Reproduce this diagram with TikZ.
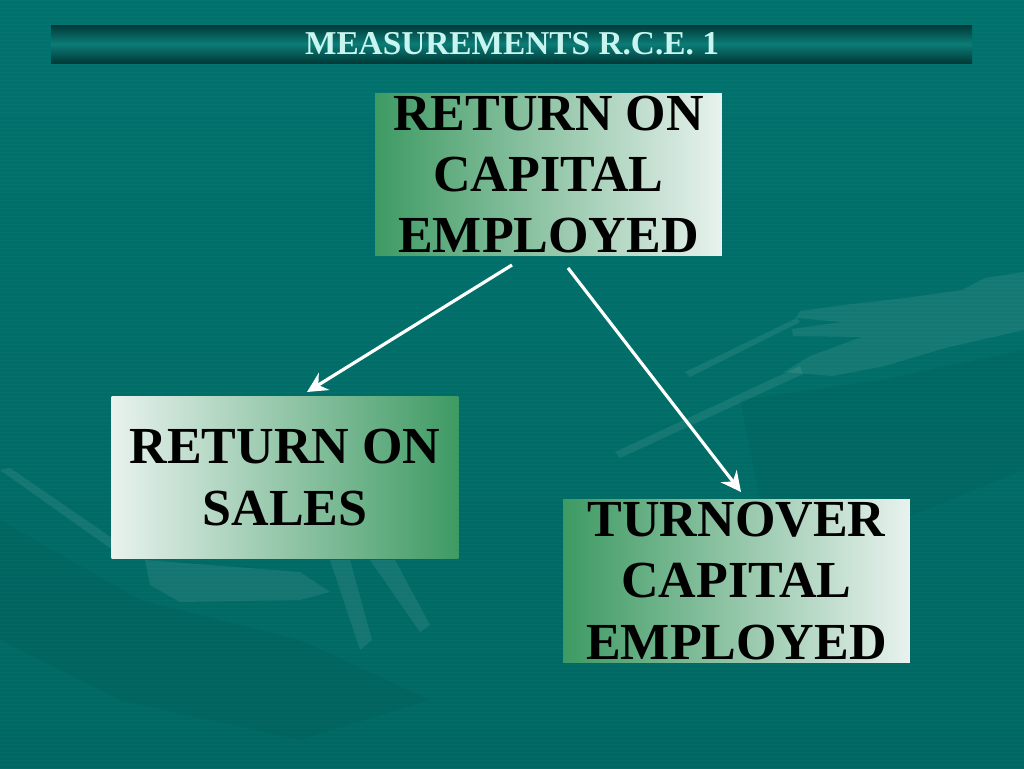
\documentclass[tikz,border=0pt]{standalone}
\usepackage{fontspec}
\setmainfont{Liberation Serif}
\usetikzlibrary{arrows.meta,shadings}
\definecolor{bgtop}{RGB}{0,114,109}
\definecolor{bgbot}{RGB}{0,104,99}
\definecolor{boxgreen}{RGB}{62,154,99}
\definecolor{boxlight}{RGB}{232,242,238}
\definecolor{bardark}{RGB}{0,58,56}
\definecolor{barmid}{RGB}{12,124,118}
\definecolor{titletext}{RGB}{200,245,240}
\tikzset{
  gbox/.style={rectangle, inner sep=0pt, minimum width=260pt, minimum height=122pt,
    align=center, font=\fontsize{39pt}{46pt}\selectfont\bfseries, text=black},
  gl/.style={gbox, left color=boxgreen, right color=boxlight},
  gr/.style={gbox, left color=boxlight, right color=boxgreen},
  conn/.style={draw=white, line width=2.4pt, -{Stealth[length=15pt,width=15pt,inset=5pt]}},
  deco/.style={fill=white, fill opacity=0.08, draw=none},
  titlefont/.style={font=\fontsize{25pt}{28pt}\selectfont\bfseries}
}
\begin{document}
\begin{tikzpicture}[x=0.75pt,y=-0.75pt]
\useasboundingbox (0,0) rectangle (1024,768);
\shade[top color=bgtop, bottom color=bgbot] (0,0) rectangle (1024,768);
% faint stripes
\foreach \yy in {0,4,...,768} { \draw[white, opacity=0.025, line width=0.75pt] (0,\yy) -- (1024,\yy); }
% decorative hand silhouettes (right)
\path[deco] (1024,272) -- (985,278) -- (962,290) -- (905,298) -- (852,304) -- (800,311)
  -- (796,318) -- (842,322) -- (792,329) -- (793,336) -- (862,337) -- (810,356)
  -- (784,372) -- (832,376) -- (885,366) -- (945,348) -- (1024,330) -- cycle;
\path[deco] (615,452) -- (800,366) -- (803,374) -- (620,458) -- cycle;
\path[deco] (685,372) -- (797,318) -- (800,322) -- (690,377) -- cycle;
\path[fill=black, fill opacity=0.04] (740,400) -- (880,380) -- (1024,350) -- (1024,470) -- (900,520) -- (760,500) -- cycle;
% decorative hand silhouettes (left)
\path[deco] (0,470) -- (10,468) -- (115,540) -- (110,548) -- cycle;
\path[deco] (145,560) -- (300,572) -- (330,592) -- (300,600) -- (180,602) -- (150,585) -- cycle;
\path[deco] (330,560) -- (350,560) -- (372,640) -- (360,650) -- cycle;
\path[deco] (370,560) -- (395,560) -- (430,625) -- (420,632) -- cycle;
\path[fill=black, fill opacity=0.04] (0,520) -- (140,600) -- (300,640) -- (430,700) -- (300,740) -- (120,700) -- (0,640) -- cycle;
% title bar
\shade[top color=bardark, bottom color=bardark, middle color=barmid] (51,25) rectangle (972,63);
\node[titlefont, text=titletext] (title) at (512,44) {MEASUREMENTS R.C.E. 1};
% boxes
\node[gl] (rce) at (548.5,174.5) {RETURN ON\\CAPITAL\\EMPLOYED};
\node[gr] (ros) at (285,477.5) {RETURN ON\\SALES};
\node[gl] (tce) at (736.5,581) {TURNOVER\\CAPITAL\\EMPLOYED};
% connectors
\coordinate (s1) at (512,265);
\coordinate (e1) at (307,392);
\coordinate (s2) at (568,268);
\coordinate (e2) at (741,492);
\draw[conn] (s1) -- (e1);
\draw[conn] (s2) -- (e2);
\end{tikzpicture}
\end{document}
